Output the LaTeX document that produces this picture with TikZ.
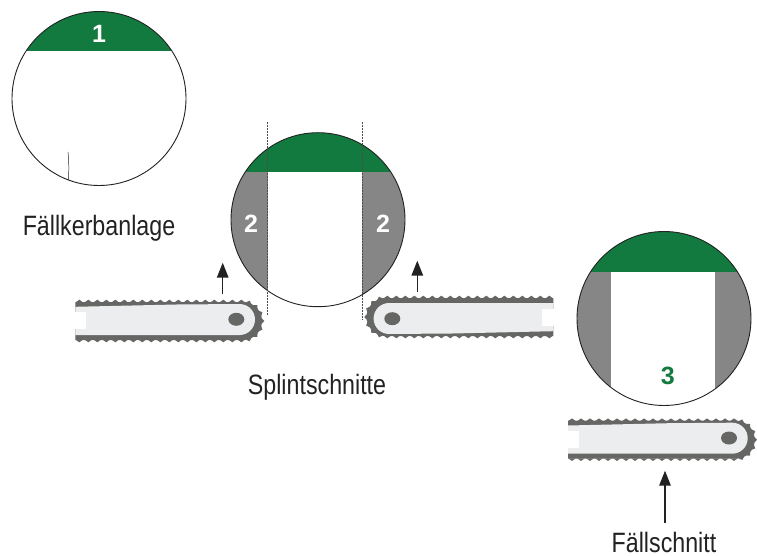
\documentclass[tikz,border=0pt]{standalone}
\usepackage{fontspec}
\setmainfont[FakeStretch=0.83]{Liberation Sans}
\newfontfamily\numfont[Ligatures=TeX]{Liberation Sans}
\usetikzlibrary{arrows.meta}
\definecolor{cutgreen}{HTML}{127A3F}
\definecolor{cutgrey}{HTML}{868686}
\definecolor{chaingrey}{HTML}{666665}
\definecolor{barlight}{HTML}{ECEDEF}
\definecolor{inkdark}{HTML}{222222}
\tikzset{
  x=1pt,y=-1pt,
  rim/.style={draw=inkdark,line width=0.9pt},
  caption/.style={text=inkdark,font=\fontsize{28}{28}\selectfont,inner sep=0pt},
  cutnum/.style={font=\numfont\bfseries\fontsize{25}{25}\selectfont,inner sep=0pt},
  upshaft/.style={draw=inkdark,line width=1.5pt,-{Triangle[width=11.5pt,length=15pt]}},
  guide/.style={draw=black!70,line width=0.5pt,densely dotted},
  sawbar/.pic={
    \fill[chaingrey] (-161,-17.3) -- (6.7,-17.3) arc[start angle=-90,end angle=90,radius=19] -- (-161,20.7) -- cycle;
    \foreach \tx in {-157,-148,...,6}{
      \fill[chaingrey] (\tx-3.6,-17) -- (\tx,-19.6) -- (\tx+3.6,-17) -- cycle;
      \fill[chaingrey] (\tx-3.6,20.4) -- (\tx,23) -- (\tx+3.6,20.4) -- cycle;
    }
    \foreach \ta in {-72,-48,...,72}{
      \fill[chaingrey] ([shift={(6.7,1.7)}]\ta-10:18.6) -- ([shift={(6.7,1.7)}]\ta:21.3) -- ([shift={(6.7,1.7)}]\ta+10:18.6) -- cycle;
    }
    \fill[barlight] (-161,-12.5) -- (-60,-14.8) -- (3.2,-15.3) arc[start angle=-90,end angle=90,radius=15.5] -- (-161,15.7) -- cycle;
    \fill[white] (-162,-7.3) rectangle (-150,9.7);
    \fill[chaingrey] (0,0) circle[x radius=8,y radius=6.5];
  }
}
\begin{document}
\begin{tikzpicture}
\useasboundingbox (0,0) rectangle (757,556);

% circle 1
\coordinate (c1) at (99,98.5);
\fill[white] (c1) circle[radius=87];
\begin{scope}
  \clip (c1) circle[radius=87];
  \fill[cutgreen] (0,0) rectangle (200,51);
\end{scope}
\draw[rim] (c1) circle[radius=87];
\draw[inkdark,line width=0.5pt] (68,152) .. controls (69,162) and (69,172) .. (68.3,180);
\node[cutnum,text=white] (n1) at (99,34) {1};
\node[caption] (l1) at (99,228) {Fällkerbanlage};

% circle 2
\coordinate (c2) at (318,219.7);
\begin{scope}
  \clip (c2) circle[radius=87];
  \fill[cutgrey] (220,172) rectangle (267.7,310);
  \fill[cutgrey] (362.3,172) rectangle (410,310);
  \fill[cutgreen] (220,120) rectangle (410,172);
\end{scope}
\draw[rim] (c2) circle[radius=87];
\coordinate (g1a) at (267.7,122); \coordinate (g1b) at (267.7,315);
\coordinate (g2a) at (362.3,122); \coordinate (g2b) at (362.3,319);
\draw[guide] (g1a) -- (g1b);
\draw[guide] (g2a) -- (g2b);
\node[cutnum,text=white] (n2a) at (251,224) {2};
\node[cutnum,text=white] (n2b) at (383,224) {2};
\node[caption] (l2) at (317,387) {Splintschnitte};

% circle 3
\coordinate (c3) at (664,318.5);
\begin{scope}
  \clip (c3) circle[radius=87];
  \fill[cutgrey] (570,271) rectangle (610.7,410);
  \fill[cutgrey] (715.3,271) rectangle (757,410);
  \fill[cutgreen] (570,225) rectangle (757,271.7);
\end{scope}
\draw[rim] (c3) circle[radius=87];
\node[cutnum,text=cutgreen] (n3) at (667.7,375.5) {3};
\node[caption] (l3) at (664,542.5) {Fällschnitt};

% saws
\pic at (236.3,319.3) {sawbar};
\pic[rotate=180] at (392.3,318.7) {sawbar};
\pic at (729,438) {sawbar};

% arrows
\coordinate (a1s) at (222.7,294); \coordinate (a1e) at (222.7,262.7);
\coordinate (a2s) at (417.3,292); \coordinate (a2e) at (417.3,260.7);
\coordinate (a3s) at (665,522.7); \coordinate (a3e) at (665,470.7);
\draw[upshaft] (a1s) -- (a1e);
\draw[upshaft] (a2s) -- (a2e);
\draw[upshaft] (a3s) -- (a3e);
\end{tikzpicture}
\end{document}
